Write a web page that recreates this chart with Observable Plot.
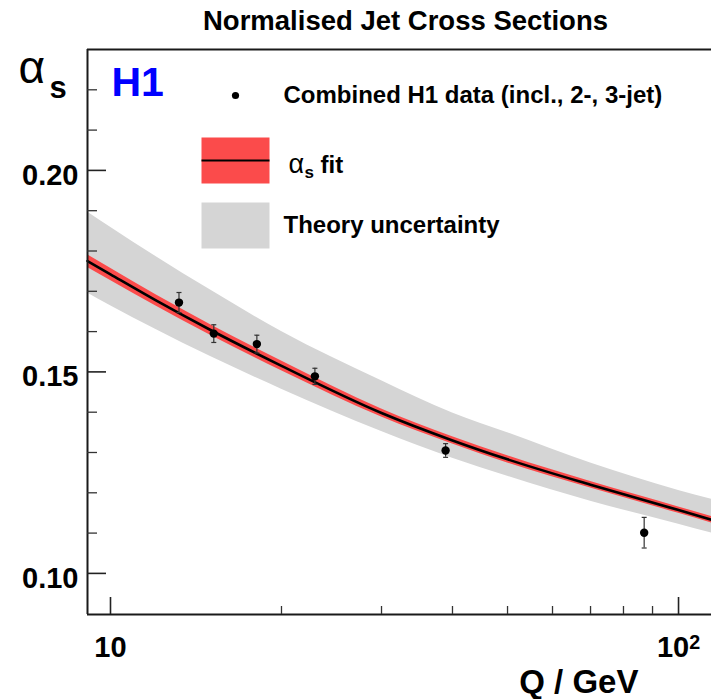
<!DOCTYPE html>
<html>
<head>
<meta charset="utf-8">
<script src="https://cdn.jsdelivr.net/npm/d3@7"></script>
<script src="https://cdn.jsdelivr.net/npm/@observablehq/plot@0.6"></script>
<style>
  html, body { margin: 0; padding: 0; background: white; }
  #chart { width: 711px; height: 699px; overflow: hidden; }
</style>
</head>
<body>
<div id="chart"></div>
<script>
// ---- data ----
const titleText = "Normalised Jet Cross Sections";
const xTitle = "Q / GeV";
const experimentLabel = "H1";

// fitted running alpha_s curve
const fitQ     = [9.11, 10, 12, 15, 20, 30, 40, 50, 70, 100, 114.3];
const fitAlpha = [0.1775, 0.1742, 0.1678, 0.1604, 0.1515, 0.1398, 0.1330, 0.1283, 0.1220, 0.1157, 0.1133];
const fitErr   = [0.0016, 0.0015, 0.0014, 0.0013, 0.0012, 0.0010, 0.0009, 0.0009, 0.0008, 0.0008, 0.0008];
// theory uncertainty band edges
const theoryHigh = [0.1897, 0.1859, 0.1787, 0.1703, 0.1600, 0.1478, 0.1398, 0.1349, 0.1274, 0.1206, 0.1184];
const theoryLow  = [0.1696, 0.1664, 0.1606, 0.1538, 0.1457, 0.1352, 0.1286, 0.1241, 0.1179, 0.1122, 0.1100];

// combined H1 data points
const dataQ     = [13.2, 15.2, 18.1, 22.9, 38.9, 87.0];
const dataAlpha = [0.1672, 0.1595, 0.1569, 0.1489, 0.1305, 0.1101];
const dataErr   = [0.0025, 0.0022, 0.0022, 0.0020, 0.0017, 0.0038];

// axes
const xDomain = [9.11, 114.3];
const yDomain = [0.0898, 0.2300];
const yMajorTicks = [0.10, 0.15, 0.20];
const yMinorTicks = [0.11, 0.12, 0.13, 0.14, 0.16, 0.17, 0.18, 0.19, 0.21, 0.22];
const xMajorTicks = [10, 100];
const xMinorTicks = [20, 30, 40, 50, 60, 70, 80, 90];
const xTickLabels = ["10", "10\u00B2"];

// legend
const legendData = "Combined H1 data (incl., 2-, 3-jet)";
const legendFit = "fit";
const legendTheory = "Theory uncertainty";

// ---- tables built from the arrays ----
const curve = fitQ.map((q, i) => ({
  Q: q, a: fitAlpha[i], lo: fitAlpha[i] - fitErr[i], hi: fitAlpha[i] + fitErr[i],
  tLo: theoryLow[i], tHi: theoryHigh[i]
}));
const points = dataQ.map((q, i) => ({
  Q: q, a: dataAlpha[i], lo: dataAlpha[i] - dataErr[i], hi: dataAlpha[i] + dataErr[i]
}));

const W = 711, H = 699, ML = 87, MR = 0, MT = 49, MB = 85;
const FW = W - ML - MR, FH = H - MT - MB;

const capSymbol = { draw(ctx) { ctx.moveTo(-2.5, 0); ctx.lineTo(2.5, 0); } };
const boxSymbol = { draw(ctx) { ctx.rect(-34, -23, 68, 46); } };
const lineSymbol = { draw(ctx) { ctx.moveTo(-34, 0); ctx.lineTo(34, 0); } };

const bold = "bold";
const font = "'Liberation Sans', Arial, Helvetica, sans-serif";

const chart = Plot.plot({
  width: W, height: H,
  marginLeft: ML, marginRight: MR, marginTop: MT, marginBottom: MB,
  style: { fontFamily: font, background: "white", color: "black" },
  x: { type: "log", domain: xDomain },
  y: { domain: yDomain },
  marks: [
    // bands and curve
    Plot.areaY(curve, { x: "Q", y1: "tLo", y2: "tHi", fill: "#d5d5d5", curve: "monotone-x" }),
    Plot.areaY(curve, { x: "Q", y1: "lo", y2: "hi", fill: "#fb4b4b", curve: "monotone-x" }),
    Plot.lineY(curve, { x: "Q", y: "a", stroke: "black", strokeWidth: 2.6, curve: "monotone-x" }),
    // data with error bars
    Plot.ruleX(points, { x: "Q", y1: "lo", y2: "hi", stroke: "#333", strokeWidth: 1.2 }),
    Plot.dot(points, { x: "Q", y: "lo", symbol: capSymbol, stroke: "#333", strokeWidth: 1.2, fill: "none" }),
    Plot.dot(points, { x: "Q", y: "hi", symbol: capSymbol, stroke: "#333", strokeWidth: 1.2, fill: "none" }),
    Plot.dot(points, { x: "Q", y: "a", r: 4.2, fill: "black", stroke: "none" }),
    // frame (left, top, bottom)
    Plot.ruleX([xDomain[0]], { stroke: "#1a1a1a", strokeWidth: 2 }),
    Plot.ruleY(yDomain, { stroke: "#1a1a1a", strokeWidth: 2 }),
    // inward ticks
    Plot.tickY(yMajorTicks, { y: d => d, insetRight: FW - 19, stroke: "#222", strokeWidth: 1.6 }),
    Plot.tickY(yMinorTicks, { y: d => d, insetRight: FW - 10, stroke: "#333", strokeWidth: 1.3 }),
    Plot.tickX(xMajorTicks, { x: d => d, insetTop: FH - 17, stroke: "#222", strokeWidth: 1.6 }),
    Plot.tickX(xMinorTicks, { x: d => d, insetTop: FH - 8, stroke: "#333", strokeWidth: 1.3 }),
    // axis labels
    Plot.axisY({ ticks: yMajorTicks, tickSize: 0, tickPadding: 9, label: null,
      tickFormat: d => d.toFixed(2), fontSize: 29, fontWeight: bold, dy: 5 }),
    Plot.axisX({ ticks: xMajorTicks, tickSize: 0, tickPadding: 22, label: null,
      tickFormat: d => xTickLabels[xMajorTicks.indexOf(d)], fontSize: 29, fontWeight: bold }),
    // titles
    Plot.text([titleText], { text: d => d, frameAnchor: "top", dx: 6, dy: -20,
      lineAnchor: "bottom", fontSize: 27.5, fontWeight: bold, fill: "black" }),
    Plot.text([xTitle], { text: d => d, frameAnchor: "bottom-right", dx: -73, dy: 78,
      textAnchor: "end", lineAnchor: "bottom", fontSize: 33, fontWeight: bold, fill: "black" }),
    Plot.text(["\u03B1"], { text: d => d, frameAnchor: "top-left", dx: 18 - ML, dy: 82 - MT,
      textAnchor: "start", lineAnchor: "bottom", fontSize: 46, fontWeight: "normal", fill: "black" }),
    Plot.text(["s"], { text: d => d, frameAnchor: "top-left", dx: 49 - ML, dy: 97 - MT,
      textAnchor: "start", lineAnchor: "bottom", fontSize: 31, fontWeight: bold, fill: "black" }),
    Plot.text([experimentLabel], { text: d => d, frameAnchor: "top-left", dx: 24, dy: 95 - MT,
      textAnchor: "start", lineAnchor: "bottom", fontSize: 41, fontWeight: bold, fill: "#0000ff" }),
    // legend
    Plot.dot([legendData], { frameAnchor: "top-left", dx: 235 - ML, dy: 95 - MT, r: 3.6, fill: "black" }),
    Plot.text([legendData], { text: d => d, frameAnchor: "top-left", dx: 283 - ML, dy: 102 - MT,
      textAnchor: "start", lineAnchor: "bottom", fontSize: 24, fontWeight: bold, fill: "black" }),
    Plot.dot([legendFit], { frameAnchor: "top-left", dx: 235 - ML, dy: 160 - MT, symbol: boxSymbol, fill: "#fb4b4b", stroke: "none" }),
    Plot.dot([legendFit], { frameAnchor: "top-left", dx: 235 - ML, dy: 160 - MT, symbol: lineSymbol, fill: "none", stroke: "black", strokeWidth: 2.2 }),
    Plot.text(["\u03B1"], { text: d => d, frameAnchor: "top-left", dx: 288 - ML, dy: 172 - MT,
      textAnchor: "start", lineAnchor: "bottom", fontSize: 27, fontWeight: "normal", fill: "black" }),
    Plot.text(["s"], { text: d => d, frameAnchor: "top-left", dx: 304 - ML, dy: 177 - MT,
      textAnchor: "start", lineAnchor: "bottom", fontSize: 17, fontWeight: bold, fill: "black" }),
    Plot.text([legendFit], { text: d => d, frameAnchor: "top-left", dx: 320 - ML, dy: 172 - MT,
      textAnchor: "start", lineAnchor: "bottom", fontSize: 24, fontWeight: bold, fill: "black" }),
    Plot.dot([legendTheory], { frameAnchor: "top-left", dx: 235 - ML, dy: 225 - MT, symbol: boxSymbol, fill: "#d5d5d5", stroke: "none" }),
    Plot.text([legendTheory], { text: d => d, frameAnchor: "top-left", dx: 283 - ML, dy: 232 - MT,
      textAnchor: "start", lineAnchor: "bottom", fontSize: 24, fontWeight: bold, fill: "black" })
  ]
});
document.getElementById("chart").appendChild(chart);

// render the "10²" tick label with a proper superscript
d3.select(chart).selectAll("text").each(function () {
  const t = d3.select(this);
  if (t.text() === xTickLabels[1]) {
    t.text("10");
    t.append("tspan").attr("dy", "-0.42em").attr("font-size", "0.68em").text("2");
  }
});
</script>
</body>
</html>
